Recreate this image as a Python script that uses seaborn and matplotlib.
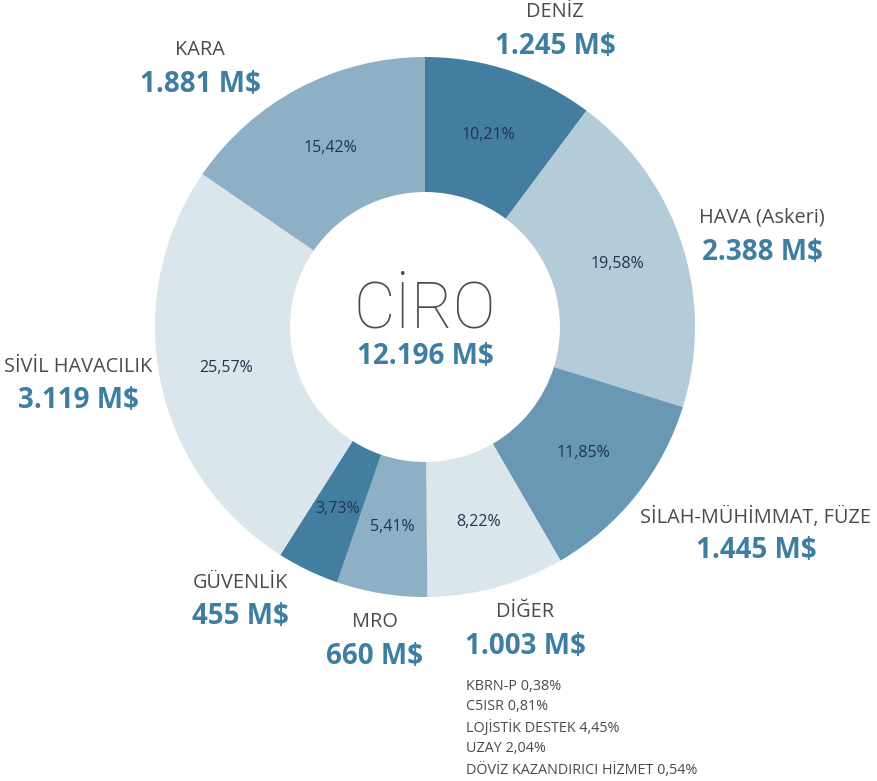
import numpy as np
import matplotlib
matplotlib.use("Agg")
import matplotlib.pyplot as plt
import matplotlib.transforms as mtransforms
import seaborn as sns

# segment data (clockwise from top), values in million $
segments = ["DENİZ", "HAVA (Askeri)", "SİLAH-MÜHİMMAT, FÜZE", "DİĞER",
            "MRO", "GÜVENLİK", "SİVİL HAVACILIK", "KARA"]
values = [1245, 2388, 1445, 1003, 660, 455, 3119, 1881]
value_labels = ["1.245 M$", "2.388 M$", "1.445 M$", "1.003 M$",
                "660 M$", "455 M$", "3.119 M$", "1.881 M$"]
total_label = "12.196 M$"
other_notes = ["KBRN-P 0,38%", "C5ISR 0,81%", "LOJİSTİK DESTEK 4,45%",
               "UZAY 2,04%", "DÖVİZ KAZANDIRICI HİZMET 0,54%"]

sns.set_theme(style="white")
plt.rcParams['font.family'] = ['Open Sans', 'DejaVu Sans']

colors = ["#437ea0", "#b4cbd8", "#6898b3", "#dbe5ec",
          "#8eb0c4", "#437ea0", "#dbe5ec", "#8eb0c4"]
blue = "#3f7ea3"
gray = "#4a4a4a"
navy = "#1f3550"

W, H = 877, 781
fig = plt.figure(figsize=(W / 100, H / 100), dpi=100)
ax = fig.add_axes([0, 0, 1, 1])

cx, cy, R = 425, 327, 270

wedges, texts, autotexts = ax.pie(
    values, colors=colors, startangle=90, counterclock=False,
    radius=R, center=(cx, -cy), frame=True,
    autopct=lambda p: f"{p:.2f}".replace(".", ",") + "%",
    pctdistance=0.75, wedgeprops=dict(width=R * 0.5, linewidth=0),
    textprops=dict(color=navy, fontsize=11.5))
# pie draws in y-up coords; flip into the pixel frame (top-left origin)
flip = mtransforms.Affine2D().scale(1, -1) + ax.transData
for w in wedges:
    w.set_transform(flip)
for t in autotexts:
    t.set_transform(flip)
ax.set_xlim(0, W)
ax.set_ylim(H, 0)
ax.set_aspect("equal")
ax.axis("off")

# outer label positions (pixel coords, top-left origin)
label_pos = [(555, 12), (762, 218), (756, 517), (525, 612),
             (375, 622), (240, 583), (78, 367), (200, 50)]
for name, val, (x, y) in zip(segments, value_labels, label_pos):
    ax.text(x, y, name, ha="center", va="center", fontsize=14.3, color=gray)
    ax.text(x, y + 34, val, ha="center", va="center", fontsize=20,
            fontweight="bold", color=blue)

ax.text(cx, 310, "CİRO", ha="center", va="center", fontsize=46,
        color=gray, family=["Roboto", "DejaVu Sans"], fontweight="light")
ax.text(cx, 356, total_label, ha="center", va="center", fontsize=20,
        fontweight="bold", color=blue)

for i, note in enumerate(other_notes):
    ax.text(466, 686 + 21 * i, note, ha="left", va="center",
            fontsize=10.4, color=gray)

fig.savefig("out.png", dpi=100, facecolor="white")
